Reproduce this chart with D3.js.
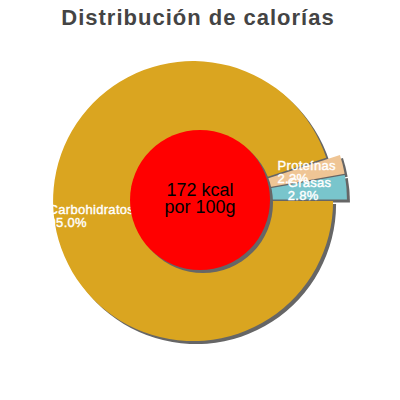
<!DOCTYPE html>
<html>
<head>
<meta charset="utf-8">
<script src="https://cdn.jsdelivr.net/npm/d3@7"></script>
<style>
  body { margin: 0; background: #fff; }
  svg { display: block; font-family: "Liberation Sans", Arial, sans-serif; }
</style>
</head>
<body>
<div id="chart"></div>
<script>
// chart values
let categories = ['Carbohidratos', 'Proteínas', 'Grasas'];
let percents = [95.0, 2.2, 2.8];
let titleText = 'Distribución de calorías';
let centerLines = ['172 kcal', 'por 100g'];

let config = { width: 400, height: 400, cx: 200, cy: 200, radius: 140, inner: 70, explode: 7, labelR: 110 };

let color = d3.scaleOrdinal()
  .domain(categories)
  .range(['#daa520', '#efc595', '#79c5cc']);

function translate(x, y) {
  return 'translate(' + x + ',' + y + ')';
}

let svg = d3.select('#chart').append('svg')
  .attr('width', config.width)
  .attr('height', config.height);

svg.append('text')
  .attr('x', 198)
  .attr('y', 25)
  .attr('text-anchor', 'middle')
  .style('font-size', '22px')
  .style('font-weight', 'bold')
  .style('letter-spacing', '1px')
  .attr('fill', '#444')
  .text(titleText);

let data = categories.map((c, i) => ({ name: c, value: percents[i] }));

// slices go clockwise from 3 o'clock, last one ends there
let pie = d3.pie()
  .sort(null)
  .value(d => d.value)
  .startAngle(Math.PI / 2)
  .endAngle(Math.PI / 2 + 2 * Math.PI);

let arc = d3.arc().innerRadius(0).outerRadius(config.radius);
let arcs = pie(data);

function offset(d, r) {
  let a = (d.startAngle + d.endAngle) / 2;
  return [Math.sin(a) * r, -Math.cos(a) * r];
}

let g = svg.append('g').attr('transform', translate(config.cx, config.cy));

// shadow
g.selectAll('path.shadow')
  .data(arcs)
  .enter()
  .append('path')
  .attr('class', 'shadow')
  .attr('d', arc)
  .attr('fill', '#666')
  .attr('transform', d => { let o = offset(d, config.explode); return translate(o[0] + 3, o[1] + 3); });

g.selectAll('path.slice')
  .data(arcs)
  .enter()
  .append('path')
  .attr('class', 'slice')
  .attr('d', arc)
  .attr('fill', d => color(d.data.name))
  .attr('transform', d => { let o = offset(d, config.explode); return translate(o[0], o[1]); });

// labels
arcs.forEach(d => {
  let p = offset(d, config.labelR);
  let t = g.append('text')
    .attr('fill', '#fff')
    .attr('stroke', '#fff')
    .attr('stroke-width', 0.4)
    .style('font-size', '13px')
    .style('letter-spacing', '0.3px');
  let l1 = t.append('tspan').attr('y', p[1] - 3).text(d.data.name);
  let l2 = t.append('tspan').attr('y', p[1] + 10).text(d3.format('.1f')(d.data.value) + '%');
  let w = Math.max(l1.node().getComputedTextLength(), l2.node().getComputedTextLength());
  l1.attr('x', p[0] - w / 2);
  l2.attr('x', p[0] - w / 2);
});

// center disc
g.append('circle').attr('cx', 3).attr('cy', 3).attr('r', config.inner).attr('fill', '#666');
g.append('circle').attr('r', config.inner).attr('fill', '#ff0000');

g.selectAll('text.center')
  .data(centerLines)
  .enter()
  .append('text')
  .attr('class', 'center')
  .attr('text-anchor', 'middle')
  .attr('y', (d, i) => -4 + i * 17)
  .style('font-size', '18px')
  .attr('fill', '#000')
  .text(d => d);
</script>
</body>
</html>
